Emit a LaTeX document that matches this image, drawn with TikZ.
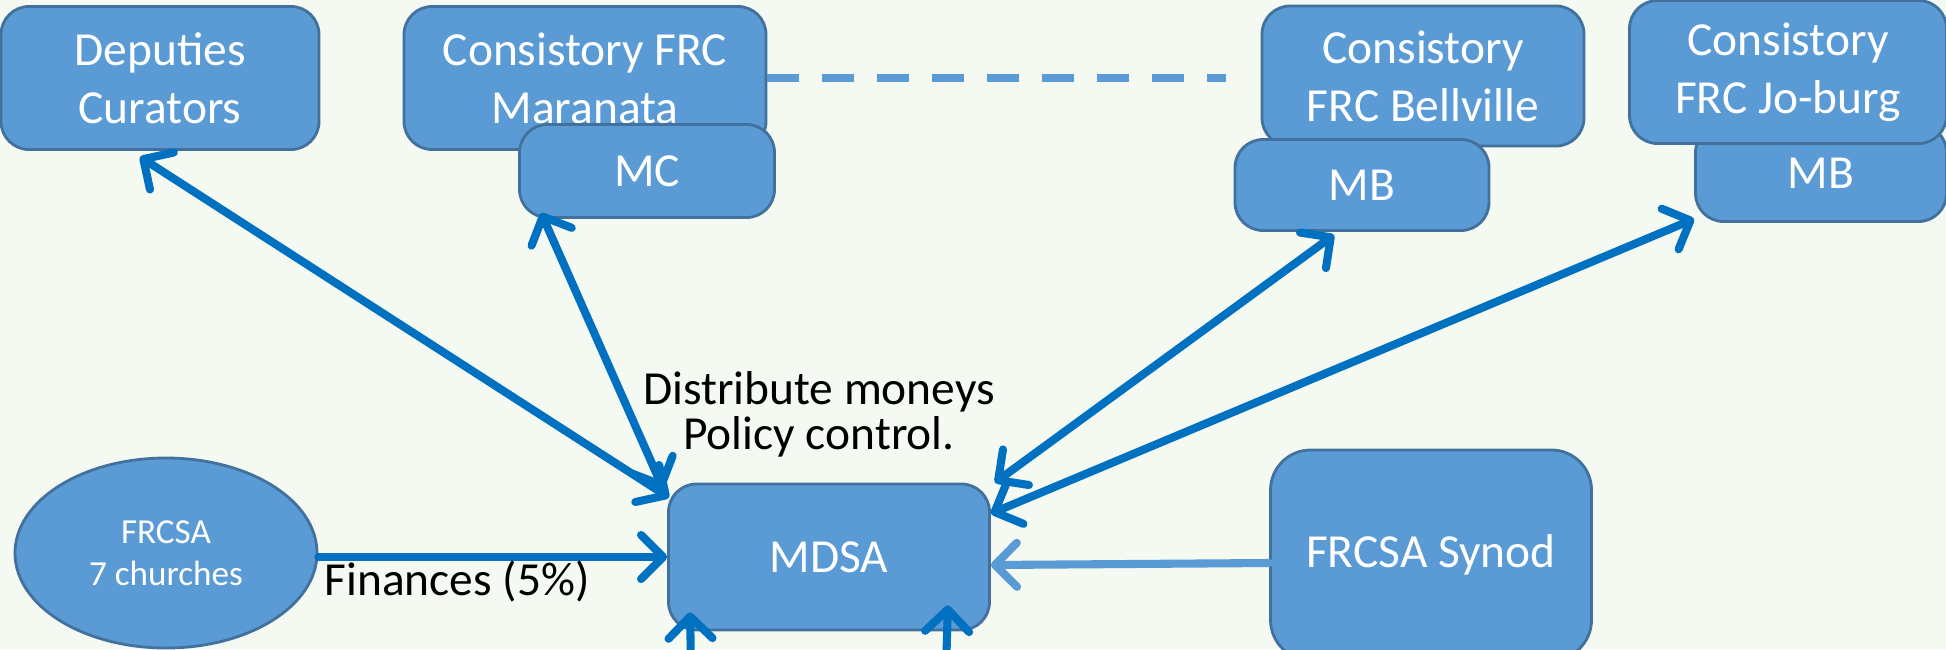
\documentclass[tikz,border=0pt]{standalone}
\usepackage{fontspec}
\setmainfont{Carlito}
\usetikzlibrary{positioning, arrows.meta, shapes.geometric}
\definecolor{boxblue}{HTML}{5B9BD5}
\definecolor{boxedge}{HTML}{41719C}
\definecolor{linkblue}{HTML}{0070C0}
\definecolor{paper}{HTML}{F4F9F2}
\tikzset{>=latex}
\tikzset{
    orgbox/.style={draw=boxedge, fill=boxblue, line width=0.8pt, rounded corners=0.28cm,
        text=white, align=center, font=\fontsize{13.5}{16.5}\selectfont, inner sep=0pt},
    barb/.style={line width=2.3pt, linkblue, line cap=round,
        arrows={Straight Barb[length=0.22cm,width=0.44cm,line cap=round,round]-Straight Barb[length=0.22cm,width=0.44cm,line cap=round,round]}},
    onebarb/.style={line width=2.3pt, linkblue, line cap=round,
        -{Straight Barb[length=0.22cm,width=0.44cm,line cap=round,round]}}
}

\begin{document}
\begin{tikzpicture}

    \fill[paper] (0,0) rectangle (19.46,-6.49);
    \useasboundingbox (0,0) rectangle (19.46,-6.49);
    \clip (0,0) rectangle (19.46,-6.49);

    % top row
    \node[orgbox, minimum width=3.18cm, minimum height=1.43cm] (deputies) at (1.60,-0.78) {Deputies\\Curators};
    \node[orgbox, minimum width=3.62cm, minimum height=1.43cm] (maranata) at (5.85,-0.78) {Consistory FRC\\Maranata};
    \node[orgbox, minimum width=2.55cm, minimum height=0.93cm] (mc) at (6.47,-1.71) {MC};
    \node[orgbox, minimum width=3.22cm, minimum height=1.40cm] (bellville) at (14.23,-0.76) {Consistory\\FRC Bellville};
    \node[orgbox, minimum width=2.54cm, minimum height=0.91cm] (mbbell) at (13.62,-1.85) {MB};
    \node[orgbox, minimum width=2.51cm, minimum height=0.97cm] (mbjoburg) at (18.21,-1.73) {MB};
    \node[orgbox, minimum width=3.17cm, minimum height=1.43cm] (joburg) at (17.88,-0.72) {Consistory\\FRC Jo-burg};

    % bottom row
    \node[orgbox, minimum width=3.21cm, minimum height=1.46cm] (mdsa) at (8.29,-5.57) {MDSA};
    \node[orgbox, minimum width=3.21cm, minimum height=2.10cm, rounded corners=0.4cm] (synod) at (14.31,-5.55) {FRCSA Synod};
    \node[orgbox, ellipse, minimum width=3.02cm, minimum height=1.90cm,
        font=\fontsize{10}{12}\selectfont] (frcsa) at (1.66,-5.53) {FRCSA\\7 churches};

    \coordinate (below1) at (6.91,-6.7);
    \coordinate (below2) at (9.46,-6.7);

    % links
    \draw[boxblue, line width=2.3pt, dash pattern=on 0.32cm off 0.23cm] (maranata.east) -- ([xshift=-0.35cm]bellville.west |- maranata.east);
    \draw[barb] ([xshift=-0.2cm,yshift=-0.06cm]deputies.south) -- ([xshift=0.02cm,yshift=-0.15cm]mdsa.north west);
    \draw[barb] ([xshift=0.23cm,yshift=0.06cm]mc.south west) -- ([xshift=-0.04cm,yshift=-0.06cm]mdsa.north west);
    \draw[barb] ([xshift=-0.28cm,yshift=-0.03cm]mbbell.south) -- ([xshift=0.04cm]mdsa.north east);
    \draw[barb] ([yshift=0.04cm]mbjoburg.south west) -- ([yshift=-0.31cm]mdsa.north east);
    \draw[onebarb] (frcsa.east |- mdsa.west) -- (mdsa.west);
    \draw[onebarb, boxblue] ([yshift=-0.08cm]synod.west) -- ([yshift=-0.08cm]mdsa.east);
    \draw[onebarb] (below1) -- ([xshift=0.23cm,yshift=0.19cm]mdsa.south west);
    \draw[onebarb] (below2) -- ([xshift=-0.43cm,yshift=0.26cm]mdsa.south east);

    % labels
    \node[font=\fontsize{13.5}{16.5}\selectfont, align=center] (distribute) at (8.19,-3.92) {Distribute moneys};
    \node[font=\fontsize{13.5}{16.5}\selectfont] (policy) at (8.19,-4.37) {Policy control.};
    \node[font=\fontsize{13.5}{16.5}\selectfont] (finances) at (4.57,-5.81) {Finances (5\%)};

\end{tikzpicture}
\end{document}
